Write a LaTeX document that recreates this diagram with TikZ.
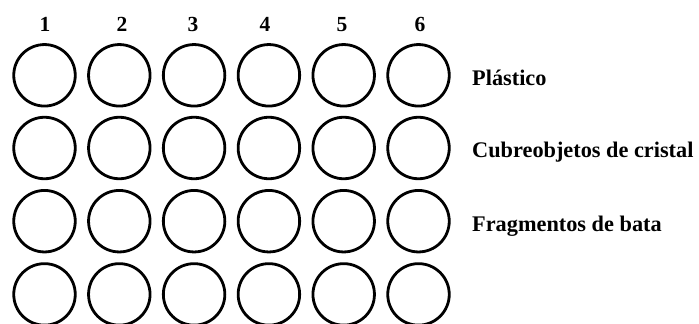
\documentclass[tikz,border=0pt]{standalone}
\usepackage{fontspec}
\setmainfont{Liberation Serif}
\begin{document}
\begin{tikzpicture}[x=1pt,y=-1pt,
  well/.style={draw=black,line width=2.8pt,circle,minimum size=61.5pt,inner sep=0pt},
  colnum/.style={font=\fontsize{21.5}{24}\selectfont\bfseries,anchor=base,inner sep=0pt},
  rowlab/.style={font=\fontsize{22.3}{24}\selectfont\bfseries,anchor=west,inner sep=0pt}]
\useasboundingbox (0,0) rectangle (699,324);
\foreach \c/\x in {1/44.5,2/119.3,3/194.1,4/268.9,5/343.7,6/418.5}{
  \foreach \r/\y in {1/75.3,2/148,3/221.2,4/294.4}{
    \node[well] (w\r\c) at (\x,\y) {};
  }
}
\foreach \c/\x in {1/45,2/122,3/193,4/265,5/342,6/420}{
  \node[colnum] (n\c) at (\x,31.5) {\c};
}
\node[rowlab] (l1) at (472,78) {Plástico};
\node[rowlab] (l2) at (472,152) {Cubreobjetos de cristal};
\node[rowlab] (l3) at (472,226) {Fragmentos de bata};
\end{tikzpicture}
\end{document}
